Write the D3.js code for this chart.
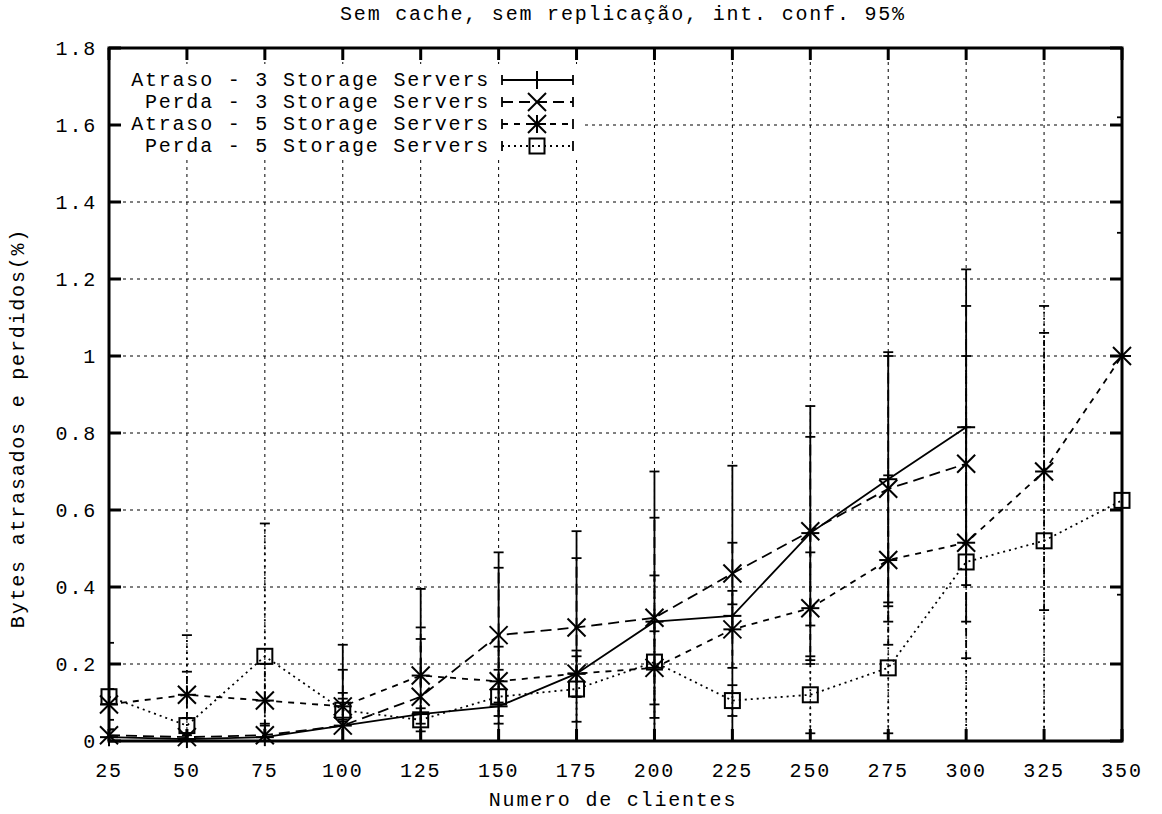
<!DOCTYPE html>
<html>
<head>
<meta charset="utf-8">
<script src="https://cdn.jsdelivr.net/npm/d3@7"></script>
<style>
  body { margin: 0; background: #fff; }
  text { font-family: "Liberation Mono", "Courier New", monospace; font-size: 20px; letter-spacing: 1.8px; fill: #000; }
</style>
</head>
<body>
<div id="chart"></div>
<script>
// Dados
var clientes = [25, 50, 75, 100, 125, 150, 175, 200, 225, 250, 275, 300, 325, 350];
var yTicks = [0, 0.2, 0.4, 0.6, 0.8, 1, 1.2, 1.4, 1.6, 1.8];

var atraso3    = [0.01, 0.005, 0.01, 0.04, 0.07, 0.09, 0.175, 0.31, 0.325, 0.54, 0.68, 0.815, null, null];
var atraso3Err = [0.02, 0.01, 0.03, 0.21, 0.325, 0.40, 0.37, 0.39, 0.39, 0.33, 0.33, 0.41, null, null];
var perda3     = [0.015, 0.01, 0.015, 0.04, 0.115, 0.275, 0.295, 0.32, 0.435, 0.545, 0.655, 0.72, null, null];
var perda3Err  = [0.015, 0.01, 0.03, 0.145, 0.15, 0.175, 0.18, 0.26, 0.08, 0.245, 0.345, 0.41, null, null];
var atraso5    = [0.095, 0.12, 0.105, 0.09, 0.17, 0.155, 0.175, 0.19, 0.29, 0.345, 0.47, 0.515, 0.70, 1.0];
var atraso5Err = [0.04, 0.06, 0.095, 0.035, 0.125, 0.09, 0.06, 0.095, 0.10, 0.145, 0.22, 0.30, 0.36, 0.62];
var perda5     = [0.115, 0.04, 0.22, 0.08, 0.055, 0.115, 0.135, 0.205, 0.105, 0.12, 0.19, 0.465, 0.52, 0.625];
var perda5Err  = [0.14, 0.235, 0.345, 0.03, 0.03, 0.07, 0.085, 0.225, 0.04, 0.10, 0.17, 0.535, 0.61, 0.695];

var labels = ["Atraso - 3 Storage Servers", "Perda - 3 Storage Servers",
              "Atraso - 5 Storage Servers", "Perda - 5 Storage Servers"];

var series = [
  {name: labels[0], values: atraso3, err: atraso3Err, dash: null, mark: "plus"},
  {name: labels[1], values: perda3, err: perda3Err, dash: "11,6", mark: "cross"},
  {name: labels[2], values: atraso5, err: atraso5Err, dash: "6,6", mark: "star"},
  {name: labels[3], values: perda5, err: perda5Err, dash: "2,4", mark: "square"}
];

// Canvas (margens em pixels)
var width = 1162, height = 814;
var m = {left: 109, right: 1122, top: 48, bottom: 741};

var x = d3.scaleLinear().domain([25, 350]).range([m.left, m.right]);
var y = d3.scaleLinear().domain([0, 1.8]).range([m.bottom, m.top]);

var svg = d3.select("#chart").append("svg")
    .attr("width", width)
    .attr("height", height);

svg.append("clipPath").attr("id", "plotclip")
  .append("rect")
    .attr("x", m.left).attr("y", m.top)
    .attr("width", m.right - m.left).attr("height", m.bottom - m.top);

// Grade pontilhada
svg.selectAll("line.hgrid").data(yTicks.slice(1, -1)).enter()
  .append("line")
    .attr("x1", m.left).attr("x2", m.right)
    .attr("y1", function(d) { return y(d); })
    .attr("y2", function(d) { return y(d); })
    .attr("stroke", "#000").attr("stroke-width", 1)
    .attr("stroke-dasharray", "3,4");

svg.selectAll("line.vgrid").data(clientes.slice(1, -1)).enter()
  .append("line")
    .attr("y1", m.top).attr("y2", m.bottom)
    .attr("x1", function(d) { return x(d); })
    .attr("x2", function(d) { return x(d); })
    .attr("stroke", "#000").attr("stroke-width", 1)
    .attr("stroke-dasharray", "3,4");

// Fundo branco da legenda (a grade nao passa por ela)
svg.append("rect")
    .attr("x", m.left + 2).attr("y", 64)
    .attr("width", 470).attr("height", 92)
    .attr("fill", "#fff");

// Series com barras de erro
var plot = svg.append("g").attr("clip-path", "url(#plotclip)");
var marks = svg.append("g");

function drawMark(g, type, cx, cy) {
  var s = 9;
  var p = g.append("g").attr("stroke", "#000").attr("stroke-width", 2).attr("fill", "none");
  if (type == "plus" || type == "star") {
    p.append("line").attr("x1", cx - s).attr("x2", cx + s).attr("y1", cy).attr("y2", cy);
    p.append("line").attr("x1", cx).attr("x2", cx).attr("y1", cy - s).attr("y2", cy + s);
  }
  if (type == "cross" || type == "star") {
    p.append("line").attr("x1", cx - s).attr("x2", cx + s).attr("y1", cy - s).attr("y2", cy + s);
    p.append("line").attr("x1", cx - s).attr("x2", cx + s).attr("y1", cy + s).attr("y2", cy - s);
  }
  if (type == "square") {
    p.append("rect").attr("x", cx - 7.5).attr("y", cy - 7.5).attr("width", 15).attr("height", 15);
  }
}

series.forEach(function(s) {
  var pts = clientes.map(function(c, i) { return {c: c, v: s.values[i], e: s.err[i]}; })
      .filter(function(d) { return d.v !== null; });

  var line = d3.line()
      .x(function(d) { return x(d.c); })
      .y(function(d) { return y(d.v); });

  plot.append("path")
      .datum(pts)
      .attr("d", line)
      .attr("fill", "none")
      .attr("stroke", "#000")
      .attr("stroke-width", 1.8)
      .attr("stroke-dasharray", s.dash);

  var eb = plot.append("g").attr("stroke", "#000").attr("stroke-width", 1.8);
  pts.forEach(function(d) {
    var lo = y(d.v - d.e), hi = y(d.v + d.e), cx = x(d.c);
    eb.append("line").attr("x1", cx).attr("x2", cx).attr("y1", lo).attr("y2", hi)
      .attr("stroke-dasharray", s.dash);
    eb.append("line").attr("x1", cx - 5).attr("x2", cx + 5).attr("y1", lo).attr("y2", lo);
    eb.append("line").attr("x1", cx - 5).attr("x2", cx + 5).attr("y1", hi).attr("y2", hi);
  });

  pts.forEach(function(d) { drawMark(marks, s.mark, x(d.c), y(d.v)); });
});

// Legenda
var legend = svg.append("g");
series.forEach(function(s, i) {
  var ly = 80 + i * 22;
  legend.append("text")
      .attr("x", 490).attr("y", ly + 6)
      .attr("text-anchor", "end")
      .text(s.name);
  var lg = legend.append("g").attr("stroke", "#000").attr("stroke-width", 1.8);
  lg.append("line").attr("x1", 502).attr("x2", 573).attr("y1", ly).attr("y2", ly)
    .attr("stroke-dasharray", s.dash);
  lg.append("line").attr("x1", 502).attr("x2", 502).attr("y1", ly - 5).attr("y2", ly + 5);
  lg.append("line").attr("x1", 573).attr("x2", 573).attr("y1", ly - 5).attr("y2", ly + 5);
  drawMark(legend, s.mark, 537, ly);
});

// Moldura e marcas dos eixos
var frame = svg.append("g").attr("stroke", "#000").attr("stroke-width", 3);
frame.append("rect")
    .attr("x", m.left).attr("y", m.top)
    .attr("width", m.right - m.left).attr("height", m.bottom - m.top)
    .attr("fill", "none");

yTicks.forEach(function(t) {
  frame.append("line").attr("x1", m.left).attr("x2", m.left + 12).attr("y1", y(t)).attr("y2", y(t));
  frame.append("line").attr("x1", m.right - 12).attr("x2", m.right).attr("y1", y(t)).attr("y2", y(t));
});
clientes.forEach(function(c) {
  frame.append("line").attr("x1", x(c)).attr("x2", x(c)).attr("y1", m.top).attr("y2", m.top + 12);
  frame.append("line").attr("x1", x(c)).attr("x2", x(c)).attr("y1", m.bottom - 12).attr("y2", m.bottom);
});

// Rotulos dos eixos
svg.selectAll("text.ytick").data(yTicks).enter()
  .append("text")
    .attr("x", 97)
    .attr("y", function(d) { return y(d) + 7; })
    .attr("text-anchor", "end")
    .text(function(d) { return d; });

svg.selectAll("text.xtick").data(clientes).enter()
  .append("text")
    .attr("x", function(d) { return x(d); })
    .attr("y", 777)
    .attr("text-anchor", "middle")
    .text(function(d) { return d; });

svg.append("text")
    .attr("x", 623).attr("y", 20)
    .attr("text-anchor", "middle")
    .text("Sem cache, sem replicação, int. conf. 95%");

svg.append("text")
    .attr("x", 613).attr("y", 806)
    .attr("text-anchor", "middle")
    .text("Numero de clientes");

svg.append("text")
    .attr("transform", "translate(24,428) rotate(-90)")
    .attr("text-anchor", "middle")
    .text("Bytes atrasados e perdidos(%)");
</script>
</body>
</html>
